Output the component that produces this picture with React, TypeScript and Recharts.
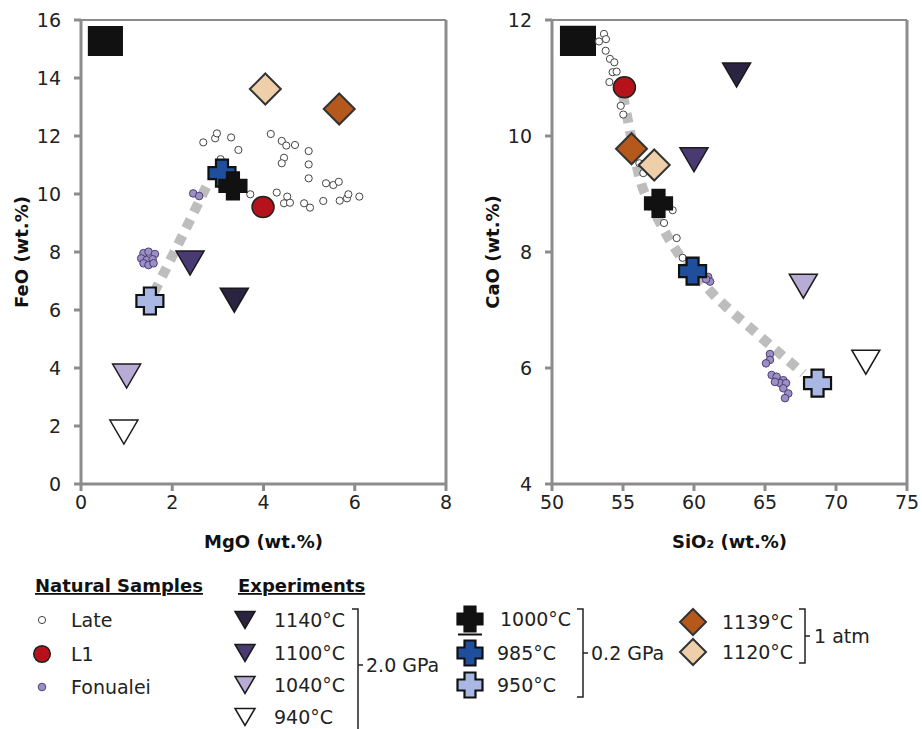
import React from "react";
import { ScatterChart, Scatter, XAxis, YAxis, ReferenceLine, ReferenceArea } from "recharts";

type Pair = [number, number];

// axis ticks
const mgoTicks = [0, 2, 4, 6, 8];
const feoTicks = [0, 2, 4, 6, 8, 10, 12, 14, 16];
const sio2Ticks = [50, 55, 60, 65, 70, 75];
const caoTicks = [4, 6, 8, 10, 12];

// experiments (same order everywhere)
const expLabels = ["1140°C", "1100°C", "1040°C", "940°C", "1000°C", "985°C", "950°C", "1139°C", "1120°C"];
const expMgO = [3.36, 2.39, 1.0, 0.94, 3.33, 3.09, 1.51, 5.66, 4.04];
const expFeO = [6.34, 7.62, 3.72, 1.79, 10.28, 10.72, 6.31, 12.93, 13.62];
const expSiO2 = [63.0, 60.0, 67.7, 72.1, 57.5, 59.9, 68.7, 55.6, 57.2];
const expCaO = [11.05, 9.59, 7.41, 6.1, 8.84, 7.67, 5.74, 9.78, 9.5];

// L1 sample
const l1MgOFeO: Pair[] = [[3.99, 9.55]];
const l1SiO2CaO: Pair[] = [[55.1, 10.84]];

// Late natural samples
const lateMgOFeO: Pair[] = [
  [2.68, 11.78], [2.94, 11.92], [2.98, 12.09], [3.29, 11.95], [3.45, 11.52], [4.16, 12.07],
  [4.4, 11.83], [4.5, 11.67], [4.69, 11.69], [4.99, 11.48], [4.45, 11.25], [4.4, 11.06],
  [4.99, 11.02], [4.99, 10.54], [5.37, 10.37], [5.53, 10.31], [5.65, 10.42], [3.06, 11.2],
  [3.71, 9.99], [4.29, 10.05], [4.52, 9.91], [4.45, 9.68], [4.58, 9.7], [4.89, 9.68],
  [5.02, 9.53], [5.31, 9.76], [5.67, 9.77], [5.83, 9.85], [5.86, 9.99], [6.1, 9.91],
];
const lateSiO2CaO: Pair[] = [
  [53.66, 11.76], [53.8, 11.67], [53.31, 11.63], [53.78, 11.47], [54.08, 11.33], [54.39, 11.27],
  [54.27, 11.1], [54.55, 11.11], [54.04, 10.93], [54.84, 10.52], [55.02, 10.37], [56.15, 9.53],
  [56.43, 9.36], [58.5, 8.72], [57.89, 8.5], [58.78, 8.24], [59.2, 7.9],
];

// Fonualei natural samples
const fonMgOFeO: Pair[] = [
  [1.37, 7.96], [1.48, 8.01], [1.62, 7.93], [1.32, 7.78], [1.44, 7.72], [1.57, 7.75],
  [1.37, 7.61], [1.48, 7.55], [1.59, 7.61], [2.46, 10.02], [2.59, 9.93],
];
const fonSiO2CaO: Pair[] = [
  [61.0, 7.57], [61.13, 7.49], [60.85, 7.53], [65.35, 6.24], [65.35, 6.14], [65.07, 6.08],
  [65.47, 5.88], [65.82, 5.85], [66.29, 5.79], [66.06, 5.74], [66.48, 5.74], [66.29, 5.65],
  [66.64, 5.56], [66.41, 5.48], [65.7, 5.76],
];

// grey trend
const trendMgOFeO: Pair[] = [[1.6, 6.6], [2.1, 8.17], [2.76, 10.3]];
const trendSiO2CaO: Pair[] = [
  [55.0, 10.7], [55.4, 10.2], [56.2, 9.25], [57.2, 8.7], [58.3, 8.2], [61.1, 7.34], [64.4, 6.6], [67.7, 5.91],
];

// black box in the corner of each panel [x1, x2, y1, y2]
const boxMgOFeO = [0.15, 0.92, 14.76, 15.79];
const boxSiO2CaO = [50.56, 53.1, 11.38, 11.9];

const expKinds = ["tri", "tri", "tri", "tri", "cross", "cross", "cross", "diamond", "diamond"];
const expFills = ["#2a2342", "#4a3a73", "#b8acd6", "#ffffff", "#111111", "#1f4f9c", "#a9b8e3", "#b5581c", "#eecfa9"];
const drawOrder = [0, 1, 2, 3, 6, 5, 4, 7, 8];

const FONT = "'DejaVu Sans', Verdana, sans-serif";
const AXIS = "#8c8c8c";

const toPts = (arr: Pair[]) => arr.map(([x, y]) => ({ x, y }));

function Marker({ kind, cx, cy, fill, small }: { kind: string; cx: number; cy: number; fill: string; small?: boolean }) {
  if (kind === "tri") {
    const w = small ? 20 : 28;
    const h = small ? 17 : 24;
    return (
      <polygon
        points={`${cx - w / 2},${cy - h / 2} ${cx + w / 2},${cy - h / 2} ${cx},${cy + h / 2}`}
        fill={fill}
        stroke="#1a1a1a"
        strokeWidth={1.5}
      />
    );
  }
  if (kind === "cross") {
    const a = small ? 12.5 : 13.5;
    const b = small ? 5.5 : 6;
    const p = [
      [-b, -a], [b, -a], [b, -b], [a, -b], [a, b], [b, b], [b, a], [-b, a], [-b, b], [-a, b], [-a, -b], [-b, -b],
    ];
    return (
      <polygon
        points={p.map(([x, y]) => `${cx + x},${cy + y}`).join(" ")}
        fill={fill}
        stroke="#111"
        strokeWidth={2.2}
      />
    );
  }
  const r = small ? 13 : 15.5;
  return (
    <polygon
      points={`${cx},${cy - r} ${cx + r},${cy} ${cx},${cy + r} ${cx - r},${cy}`}
      fill={fill}
      stroke="#333"
      strokeWidth={2}
    />
  );
}

const lateDot = (p: any) => <circle cx={p.cx} cy={p.cy} r={3.6} fill="#fff" stroke="#444" strokeWidth={1} />;
const fonDot = (p: any) => <circle cx={p.cx} cy={p.cy} r={3.8} fill="#9c8fc6" stroke="#3f3468" strokeWidth={0.9} />;
const l1Dot = (p: any) => <ellipse cx={p.cx} cy={p.cy} rx={11} ry={10.5} fill="#b5121b" stroke="#222" strokeWidth={1.5} />;
const noDot = () => <g />;

interface PanelProps {
  left: number;
  width: number;
  yAxisWidth: number;
  rightMargin: number;
  xDomain: [number, number];
  yDomain: [number, number];
  xTicks: number[];
  yTicks: number[];
  xTitle: string;
  yTitle: string;
  yTitleOffset: number;
  late: Pair[];
  fon: Pair[];
  l1: Pair[];
  trend: Pair[];
  box: number[];
  expX: number[];
  expY: number[];
}

function Panel(p: PanelProps) {
  const tickStyle = { fontSize: 19, fill: "#222", fontFamily: FONT };
  const titleStyle = { fontSize: 18, fontWeight: 700, fill: "#111", fontFamily: FONT };
  return (
    <div style={{ position: "absolute", left: p.left, top: 0 }}>
      <ScatterChart
        width={p.width}
        height={560}
        margin={{ top: 20, right: p.rightMargin, bottom: 0, left: 0 }}
      >
        <XAxis
          type="number"
          dataKey="x"
          domain={p.xDomain}
          ticks={p.xTicks}
          interval={0}
          height={76}
          tickSize={7}
          tickMargin={5}
          axisLine={{ stroke: AXIS, strokeWidth: 3 }}
          tickLine={{ stroke: AXIS, strokeWidth: 3 }}
          tick={tickStyle}
          allowDataOverflow
          label={{ value: p.xTitle, position: "insideBottom", offset: 12, style: titleStyle }}
        />
        <YAxis
          type="number"
          dataKey="y"
          domain={p.yDomain}
          ticks={p.yTicks}
          interval={0}
          width={p.yAxisWidth}
          tickSize={7}
          tickMargin={13}
          axisLine={{ stroke: AXIS, strokeWidth: 3 }}
          tickLine={{ stroke: AXIS, strokeWidth: 3 }}
          tick={tickStyle}
          allowDataOverflow
          label={{
            value: p.yTitle,
            angle: -90,
            position: "insideLeft",
            offset: p.yTitleOffset,
            style: { ...titleStyle, textAnchor: "middle" },
          }}
        />
        <ReferenceLine y={p.yDomain[1]} stroke={AXIS} strokeWidth={2} />
        <ReferenceLine x={p.xDomain[1]} stroke={AXIS} strokeWidth={3} />
        <ReferenceArea x1={p.box[0]} x2={p.box[1]} y1={p.box[2]} y2={p.box[3]} fill="#111" fillOpacity={1} stroke="none" />
        <Scatter
          data={toPts(p.trend)}
          isAnimationActive={false}
          shape={noDot}
          line={{ stroke: "#bdbdbd", strokeWidth: 10, strokeDasharray: "10 8" }}
          lineJointType="monotoneX"
        />
        <Scatter data={toPts(p.late)} isAnimationActive={false} shape={lateDot} />
        <Scatter data={toPts(p.fon)} isAnimationActive={false} shape={fonDot} />
        <Scatter data={toPts(p.l1)} isAnimationActive={false} shape={l1Dot} />
        {drawOrder.map((i) => (
          <Scatter
            key={expLabels[i]}
            name={expLabels[i]}
            data={[{ x: p.expX[i], y: p.expY[i] }]}
            isAnimationActive={false}
            shape={(s: any) => <Marker kind={expKinds[i]} cx={s.cx} cy={s.cy} fill={expFills[i]} />}
          />
        ))}
      </ScatterChart>
    </div>
  );
}

function Legend() {
  const txt = { fontSize: 19, fill: "#222", fontFamily: FONT };
  const head = { fontSize: 18, fontWeight: 700, fill: "#111", fontFamily: FONT, textDecoration: "underline" };
  const bracket = { fill: "none", stroke: "#222", strokeWidth: 1.5 };
  const naturalRows = [620, 654, 687];
  const triRows = [620, 653, 685, 717];
  const crossRows = [619, 653, 685];
  const diaRows = [622, 652];
  return (
    <svg width={922} height={729} style={{ position: "absolute", left: 0, top: 0, pointerEvents: "none" }}>
      <text x={35} y={592} style={head}>Natural Samples</text>
      <text x={238} y={592} style={head}>Experiments</text>

      <circle cx={42} cy={naturalRows[0]} r={3.6} fill="#fff" stroke="#444" strokeWidth={1} />
      <circle cx={42} cy={naturalRows[1]} r={8.3} fill="#b5121b" stroke="#222" strokeWidth={1.5} />
      <circle cx={42} cy={naturalRows[2]} r={3.8} fill="#9c8fc6" stroke="#3f3468" strokeWidth={0.9} />
      <text x={71} y={naturalRows[0]} dominantBaseline="central" style={txt}>Late</text>
      <text x={71} y={naturalRows[1]} dominantBaseline="central" style={txt}>L1</text>
      <text x={71} y={naturalRows[2]} dominantBaseline="central" style={txt}>Fonualei</text>

      {[0, 1, 2, 3].map((i, k) => (
        <g key={expLabels[i]}>
          <Marker kind="tri" cx={245} cy={triRows[k]} fill={expFills[i]} small />
          <text x={274} y={triRows[k]} dominantBaseline="central" style={txt}>{expLabels[i]}</text>
        </g>
      ))}
      <path d="M352,609 H358 V729" {...bracket} />
      <path d="M358,665 H363" {...bracket} />
      <text x={366} y={665} dominantBaseline="central" style={txt}>2.0 GPa</text>

      {[4, 5, 6].map((i, k) => (
        <g key={expLabels[i]}>
          <Marker kind="cross" cx={470} cy={crossRows[k]} fill={expFills[i]} small />
          <text x={k === 0 ? 500 : 497} y={crossRows[k]} dominantBaseline="central" style={txt}>{expLabels[i]}</text>
        </g>
      ))}
      <path d="M458,634.5 H482" stroke="#111" strokeWidth={2} />
      <path d="M577,609 H583 V697 H577" {...bracket} />
      <path d="M583,653 H588" {...bracket} />
      <text x={591} y={653} dominantBaseline="central" style={txt}>0.2 GPa</text>

      {[7, 8].map((i, k) => (
        <g key={expLabels[i]}>
          <Marker kind="diamond" cx={693} cy={diaRows[k]} fill={expFills[i]} small />
          <text x={722} y={diaRows[k]} dominantBaseline="central" style={txt}>{expLabels[i]}</text>
        </g>
      ))}
      <path d="M799,609 H805 V663 H799" {...bracket} />
      <path d="M805,636 H810" {...bracket} />
      <text x={814} y={636} dominantBaseline="central" style={txt}>1 atm</text>
    </svg>
  );
}

export default function App() {
  return (
    <div style={{ position: "absolute", left: 0, top: 0, width: 922, height: 729, background: "#fff", fontFamily: FONT }}>
      <Panel
        left={0}
        width={470}
        yAxisWidth={81}
        rightMargin={24}
        xDomain={[0, 8]}
        yDomain={[0, 16]}
        xTicks={mgoTicks}
        yTicks={feoTicks}
        xTitle="MgO (wt.%)"
        yTitle="FeO (wt.%)"
        yTitleOffset={22}
        late={lateMgOFeO}
        fon={fonMgOFeO}
        l1={l1MgOFeO}
        trend={trendMgOFeO}
        box={boxMgOFeO}
        expX={expMgO}
        expY={expFeO}
      />
      <Panel
        left={470}
        width={452}
        yAxisWidth={82}
        rightMargin={15}
        xDomain={[50, 75]}
        yDomain={[4, 12]}
        xTicks={sio2Ticks}
        yTicks={caoTicks}
        xTitle="SiO₂ (wt.%)"
        yTitle="CaO (wt.%)"
        yTitleOffset={23}
        late={lateSiO2CaO}
        fon={fonSiO2CaO}
        l1={l1SiO2CaO}
        trend={trendSiO2CaO}
        box={boxSiO2CaO}
        expX={expSiO2}
        expY={expCaO}
      />
      <Legend />
    </div>
  );
}
